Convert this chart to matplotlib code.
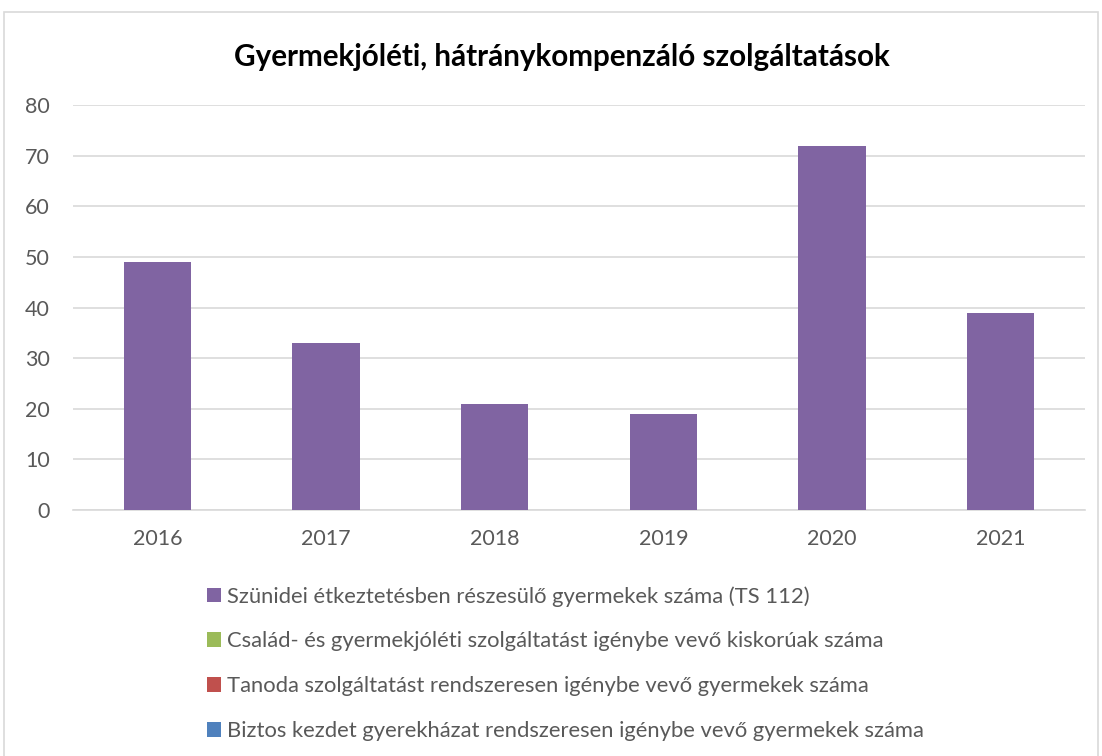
import matplotlib.pyplot as plt
from matplotlib.patches import Patch, Rectangle

plt.rcParams['font.family'] = ['Lato', 'DejaVu Sans']

# data
years = ["2016", "2017", "2018", "2019", "2020", "2021"]
szunidei = [49, 33, 21, 19, 72, 39]

series_names = [
    "Szünidei étkeztetésben részesülő gyermekek száma (TS 112)",
    "Család- és gyermekjóléti szolgáltatást igénybe vevő kiskorúak száma",
    "Tanoda szolgáltatást rendszeresen igénybe vevő gyermekek száma",
    "Biztos kezdet gyerekházat rendszeresen igénybe vevő gyermekek száma",
]
series_colors = ["#8064a2", "#9bbb59", "#c0504d", "#4f81bd"]

fig = plt.figure(figsize=(11.02, 7.56), dpi=100)

# chart border
fig.patches.append(Rectangle((4 / 1102, -0.05), 1094 / 1102, 1.05 - 12 / 756,
                             transform=fig.transFigure, fill=False,
                             edgecolor="#d9d9d9", linewidth=1.2))

ax = fig.add_axes([73 / 1102, 1 - 510 / 756, 1012 / 1102, 405 / 756])
x = range(len(years))
ax.bar(x, szunidei, width=0.4, color=series_colors[0], zorder=3)

ax.set_xlim(-0.5, len(years) - 0.5)
ax.set_ylim(0, 80)
ax.set_yticks(range(0, 81, 10))
ax.set_xticks(list(x))
ax.set_xticklabels(years)
ax.grid(axis="y", color="#d9d9d9", linewidth=1.2, zorder=0)
for s in ["top", "right", "left"]:
    ax.spines[s].set_visible(False)
ax.spines["bottom"].set_color("#d9d9d9")
ax.spines["bottom"].set_linewidth(1.2)
ax.tick_params(length=0, labelsize=15.5, colors="#595959")
ax.tick_params(axis="x", pad=14)
ax.tick_params(axis="y", pad=16.5)

fig.text(562 / 1102, 1 - 57 / 756, "Gyermekjóléti, hátránykompenzáló szolgáltatások",
         ha="center", va="center", fontsize=21.3, fontweight="bold", color="black")

handles = [Patch(facecolor=c) for c in series_colors]
leg = fig.legend(handles, series_names, loc="upper left",
                 bbox_to_anchor=(207 / 1102, 1 - 586 / 756), frameon=False,
                 fontsize=15.8, labelcolor="#595959", handlelength=0.64,
                 handleheight=0.64, handletextpad=0.25, labelspacing=1.13,
                 borderaxespad=0, borderpad=0)

fig.savefig("out.png", dpi=100)
